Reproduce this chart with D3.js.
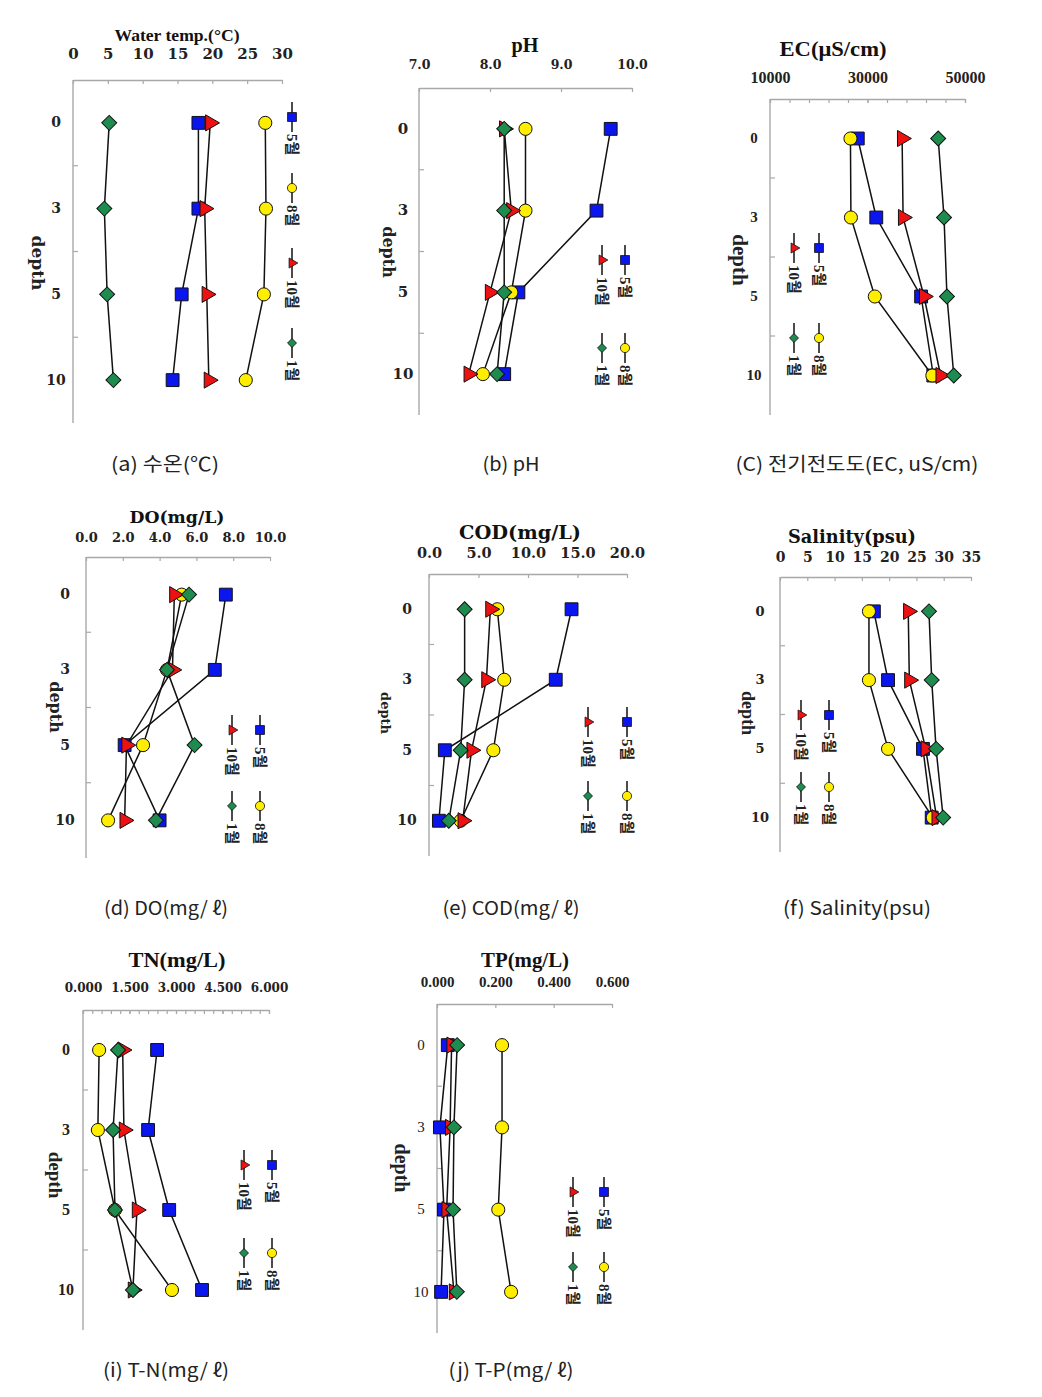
<!DOCTYPE html>
<html><head><meta charset="utf-8">
<script src="https://cdn.jsdelivr.net/npm/d3@7"></script>
<style>body{margin:0;background:#fff}</style>
</head><body>
<svg id="c" width="1042" height="1397" xmlns="http://www.w3.org/2000/svg"></svg>
<script>
// ---------- DATA ----------
const months = ["5월", "8월", "10월", "1월"];
const depths = ["0", "3", "5", "10"];
// rows: 5월, 8월, 10월, 1월 ; columns: depth 0, 3, 5, 10
const waterTemp = [[18.0, 18.0, 15.6, 14.3], [27.6, 27.7, 27.4, 24.8], [19.7, 18.9, 19.2, 19.5], [5.2, 4.5, 4.9, 5.8]];
const pH        = [[9.7, 9.5, 8.4, 8.2], [8.5, 8.5, 8.3, 7.9], [8.2, 8.3, 8.0, 7.7], [8.2, 8.2, 8.2, 8.1]];
const ec        = [[28000, 31800, 41000, 43500], [26500, 26600, 31500, 43300], [37100, 37300, 41600, 45000], [44500, 45700, 46300, 47700]];
const dOxygen   = [[7.6, 7.0, 2.1, 4.0], [5.2, 4.4, 3.1, 1.2], [4.8, 4.7, 2.2, 2.1], [5.6, 4.4, 5.9, 3.8]];
const cod       = [[14.4, 12.8, 1.6, 1.0], [6.9, 7.6, 6.5, 3.2], [6.2, 5.8, 4.3, 3.4], [3.6, 3.6, 3.2, 2.0]];
const salinity  = [[17.2, 19.8, 26.2, 27.8], [16.3, 16.3, 19.8, 28.0], [23.5, 23.7, 26.7, 28.7], [27.3, 27.8, 28.6, 29.9]];
const tn        = [[2.39, 2.10, 2.78, 3.84], [0.52, 0.48, 1.03, 2.87], [1.28, 1.32, 1.74, 1.61], [1.13, 0.97, 1.03, 1.61]];
const tp        = [[0.037, 0.010, 0.024, 0.014], [0.223, 0.223, 0.210, 0.254], [0.050, 0.045, 0.033, 0.058], [0.069, 0.058, 0.055, 0.068]];

const tempTicks = [0, 5, 10, 15, 20, 25, 30];
const phTicks   = [7, 8, 9, 10];
const ecTicks   = [10000, 30000, 50000];
const doTicks   = [0, 2, 4, 6, 8, 10];
const codTicks  = [0, 5, 10, 15, 20];
const salTicks  = [0, 5, 10, 15, 20, 25, 30, 35];
const tnTicks   = [0, 1.5, 3, 4.5, 6];
const tpTicks   = [0, 0.2, 0.4, 0.6];

const titles = ["Water temp.(°C)", "pH", "EC(μS/cm)", "DO(mg/L)", "COD(mg/L)", "Salinity(psu)", "TN(mg/L)", "TP(mg/L)"];
const captions = ["(a) 수온(℃)", "(b) pH", "(C) 전기전도도(EC, uS/cm)", "(d) DO(mg/ ℓ)", "(e) COD(mg/ ℓ)", "(f) Salinity(psu)", "(i) T-N(mg/ ℓ)", "(j) T-P(mg/ ℓ)"];

// ---------- STYLE / LAYOUT ----------
const SERIF = "'Liberation Serif','Times New Roman','Noto Sans CJK KR',serif";
const WIDE = "'DejaVu Serif','Noto Sans CJK KR',serif";
const colors = ["#0b16ee", "#ffee00", "#ee1111", "#1e8c4e"];
const AXIS = "#a8a8a8";

const layout = [
  {data: waterTemp, ticks: tempTicks, fmt: "d", xr: [73, 282], yr: [80, 423], title: [177, 35, SERIF, 17, 125],
   tickY: 54, tickFont: [WIDE, 15], depthX: 56, depthFont: [WIDE, 14, "bold"], axisLab: [38, 263, WIDE, 17],
   legend: {xs: [292], ys: [117, 188, 263, 343]}, cap: [165, 464, 108]},
  {data: pH, ticks: phTicks, fmt: ".1f", xr: [419, 632], yr: [88, 415], title: [525, 45, SERIF, 20, 27],
   tickY: 65, tickFont: [WIDE, 12.5], depthX: 403, depthFont: [WIDE, 15, "bold"], axisLab: [388, 252, WIDE, 16],
   legend: {xs: [625, 602], ys: [260, 348]}, cap: [511, 464, 57]},
  {data: ec, ticks: ecTicks, fmt: "d", xr: [770, 965], yr: [99, 415], title: [833, 48, SERIF, 22, 107],
   tickY: 77, tickFont: [SERIF, 16], depthX: 754, depthFont: [SERIF, 15, "bold"], axisLab: [740, 260, SERIF, 21],
   legend: {xs: [819, 794], ys: [248, 338]}, minor: 4000, cap: [857, 464, 243]},
  {data: dOxygen, ticks: doTicks, fmt: ".1f", xr: [86, 270], yr: [557, 858], title: [177, 517, WIDE, 16, 95],
   tickY: 537, tickFont: [WIDE, 13], depthX: 65, depthFont: [WIDE, 14, "bold"], axisLab: [55, 707, WIDE, 16],
   legend: {xs: [260, 232], ys: [730, 806]}, cap: [166, 908, 124]},
  {data: cod, ticks: codTicks, fmt: ".1f", xr: [429, 627], yr: [574, 856], title: [520, 532, WIDE, 19, 122],
   tickY: 553, tickFont: [WIDE, 14.5], depthX: 407, depthFont: [WIDE, 14, "bold"], axisLab: [385, 713, WIDE, 13],
   legend: {xs: [627, 588], ys: [722, 796]}, cap: [511, 908, 137]},
  {data: salinity, ticks: salTicks, fmt: "d", xr: [780, 971], yr: [577, 852], title: [852, 537, WIDE, 18, 128],
   tickY: 557, tickFont: [WIDE, 14], depthX: 760, depthFont: [WIDE, 13, "bold"], axisLab: [748, 713, SERIF, 18],
   legend: {xs: [829, 801], ys: [715, 787]}, cap: [857, 908, 148]},
  {data: tn, ticks: tnTicks, fmt: ".3f", xr: [83, 269], yr: [1010, 1330], title: [177, 960, SERIF, 21, 97],
   tickY: 988, tickFont: [WIDE, 12], depthX: 66, depthFont: [SERIF, 16, "bold"], axisLab: [55, 1175, SERIF, 19],
   legend: {xs: [272, 244], ys: [1165, 1253]}, minor: 0.3, cap: [166, 1370, 126]},
  {data: tp, ticks: tpTicks, fmt: ".3f", xr: [437, 612], yr: [1004, 1333], title: [525, 960, SERIF, 21, 88],
   tickY: 982, tickFont: [SERIF, 15], depthX: 421, depthFont: [SERIF, 15, "normal"], axisLab: [402, 1168, SERIF, 20],
   legend: {xs: [604, 573], ys: [1192, 1267]}, cap: [511, 1370, 125]}
];

const svg = d3.select("#c");

function markerPath(m, big) {
  const types = [d3.symbolSquare, d3.symbolCircle, d3.symbolTriangle, d3.symbolSquare];
  const sizes = big ? [165, 135, 112, 112] : [80, 66, 44, 40];
  return d3.symbol().type(types[m]).size(sizes[m])();
}
const markerRot = [0, 0, 90, 45];

layout.forEach((p, pi) => {
  const g = svg.append("g");
  const x = d3.scaleLinear().domain([p.ticks[0], p.ticks[p.ticks.length - 1]]).range(p.xr);
  const y = d3.scaleBand().domain(depths).range(p.yr).padding(0);
  const bw = y.bandwidth();
  const yTop = p.yr[0], yBot = p.yr[1];

  // title
  g.append("text").attr("x", p.title[0]).attr("y", p.title[1]).attr("dy", "0.35em")
    .attr("text-anchor", "middle").attr("font-family", p.title[2]).attr("font-size", p.title[3])
    .attr("font-weight", "bold").attr("fill", "#111")
    .attr("textLength", p.title[4]).attr("lengthAdjust", "spacingAndGlyphs").text(titles[pi]);

  // minor ticks
  if (p.minor) {
    const n = Math.round((x.domain()[1] - x.domain()[0]) / p.minor);
    const mv = d3.range(n + 1).map(i => x.domain()[0] + i * p.minor);
    g.append("g").attr("transform", `translate(0,${yTop})`)
      .call(d3.axisTop(x).tickValues(mv).tickSizeInner(-4).tickSizeOuter(0).tickFormat(""))
      .call(s => s.select(".domain").remove())
      .call(s => s.selectAll("line").attr("stroke", AXIS).attr("stroke-width", 1.2));
  }

  // top axis
  const ax = g.append("g").attr("transform", `translate(0,${yTop})`)
    .call(d3.axisTop(x).tickValues(p.ticks).tickFormat(d3.format(p.fmt)).tickSizeInner(-4).tickSizeOuter(0));
  ax.select(".domain").attr("stroke", AXIS).attr("stroke-width", 1.4);
  ax.selectAll(".tick line").attr("stroke", AXIS).attr("stroke-width", 1.2);
  ax.selectAll(".tick text").attr("y", p.tickY - yTop).attr("dy", "0.35em")
    .attr("font-family", p.tickFont[0]).attr("font-size", p.tickFont[1]).attr("font-weight", "bold").attr("fill", "#222");

  // left axis line and category boundary ticks
  g.append("line").attr("x1", p.xr[0]).attr("x2", p.xr[0]).attr("y1", yTop).attr("y2", yBot)
    .attr("stroke", AXIS).attr("stroke-width", 1.4);
  depths.slice(1).forEach(d => {
    g.append("line").attr("x1", p.xr[0]).attr("x2", p.xr[0] + 5).attr("y1", y(d)).attr("y2", y(d))
      .attr("stroke", AXIS).attr("stroke-width", 1.2);
  });
  // depth labels via axis
  const la = g.append("g").attr("transform", `translate(${p.xr[0]},0)`)
    .call(d3.axisLeft(y).tickSize(0));
  la.select(".domain").remove();
  la.selectAll(".tick text").attr("x", p.depthX - p.xr[0]).attr("text-anchor", "middle")
    .attr("font-family", p.depthFont[0]).attr("font-size", p.depthFont[1]).attr("font-weight", p.depthFont[2]).attr("fill", "#222");

  // "depth" axis title
  g.append("text").attr("transform", `translate(${p.axisLab[0]},${p.axisLab[1]}) rotate(90)`)
    .attr("text-anchor", "middle").attr("dominant-baseline", "central")
    .attr("font-family", p.axisLab[2]).attr("font-size", p.axisLab[3]).attr("font-weight", "bold").attr("fill", "#222")
    .text("depth");

  // series
  const line = d3.line().x(v => x(v)).y((v, i) => y(depths[i]) + bw / 2);
  p.data.forEach((vals, m) => {
    g.append("path").attr("d", line(vals)).attr("fill", "none").attr("stroke", "#111").attr("stroke-width", 1.5);
    g.selectAll(null).data(vals).join("path")
      .attr("d", markerPath(m, true))
      .attr("transform", (v, i) => `translate(${x(v)},${y(depths[i]) + bw / 2}) rotate(${markerRot[m]})`)
      .attr("fill", colors[m]).attr("stroke", "#111").attr("stroke-width", 1);
  });

  // legend (rotated)
  months.forEach((mo, m) => {
    let lx, ly;
    if (p.legend.xs.length === 1) { lx = p.legend.xs[0]; ly = p.legend.ys[m]; }
    else { lx = p.legend.xs[m < 2 ? 0 : 1]; ly = p.legend.ys[m % 2]; }
    g.append("line").attr("x1", lx).attr("x2", lx).attr("y1", ly - 15).attr("y2", ly + 15)
      .attr("stroke", "#111").attr("stroke-width", 1.5);
    g.append("path").attr("d", markerPath(m, false))
      .attr("transform", `translate(${lx},${ly}) rotate(${markerRot[m]})`)
      .attr("fill", colors[m]).attr("stroke", "#111").attr("stroke-width", 0.8);
    g.append("text").attr("transform", `translate(${lx},${ly + 17}) rotate(90)`)
      .attr("dominant-baseline", "central").attr("font-family", SERIF).attr("font-size", 15)
      .attr("font-weight", "bold").attr("fill", "#222").text(mo);
  });

  // caption
  svg.append("text").attr("x", p.cap[0]).attr("y", p.cap[1]).attr("dy", "0.36em").attr("text-anchor", "middle")
    .attr("font-family", "'Noto Sans CJK KR','Noto Sans',sans-serif").attr("font-size", 19).attr("fill", "#222")
    .attr("textLength", p.cap[2]).attr("lengthAdjust", "spacingAndGlyphs").text(captions[pi]);
});
</script>
</body></html>
